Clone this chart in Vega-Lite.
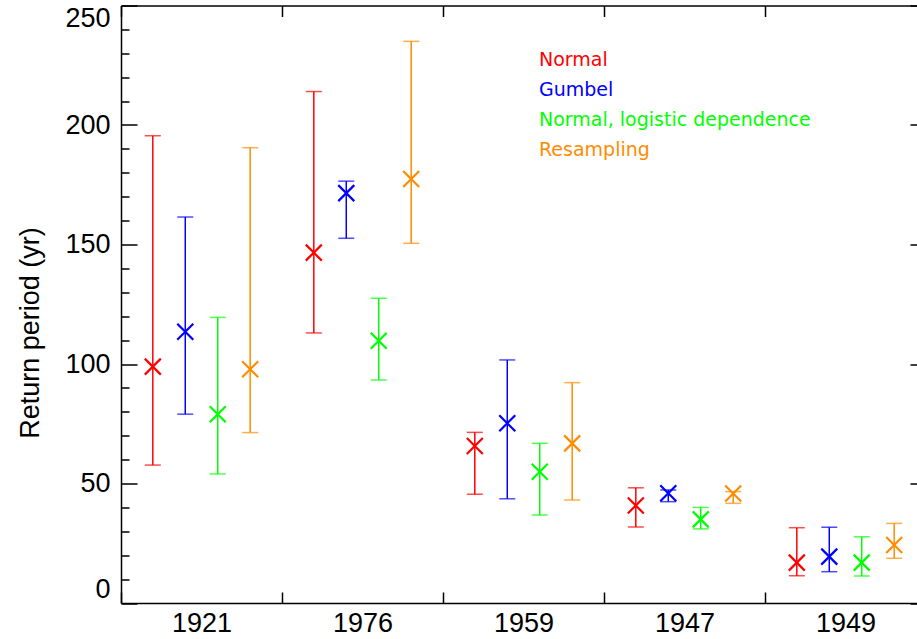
{
  "$schema": "https://vega.github.io/schema/vega-lite/v6.json",
  "autosize": "none",
  "padding": {"left": 121, "top": 5.5, "right": 0, "bottom": 36},
  "width": 805,
  "height": 597.5,
  "config": {"font": "Liberation Sans", "view": {"stroke": null}},
  "data": {"values": [
    {"year": "1921", "method": "Normal", "est": 98.9, "lo": 57.7, "hi": 195.5},
    {"year": "1921", "method": "Gumbel", "est": 113.5, "lo": 79, "hi": 161.5},
    {"year": "1921", "method": "Normal, logistic dependence", "est": 79, "lo": 54, "hi": 119.5},
    {"year": "1921", "method": "Resampling", "est": 97.8, "lo": 71.3, "hi": 190.5},
    {"year": "1976", "method": "Normal", "est": 146.6, "lo": 113, "hi": 214},
    {"year": "1976", "method": "Gumbel", "est": 171.5, "lo": 152.6, "hi": 176.5},
    {"year": "1976", "method": "Normal, logistic dependence", "est": 109.7, "lo": 93.3, "hi": 127.5},
    {"year": "1976", "method": "Resampling", "est": 177.4, "lo": 150.5, "hi": 235},
    {"year": "1959", "method": "Normal", "est": 65.7, "lo": 45.5, "hi": 71.4},
    {"year": "1959", "method": "Gumbel", "est": 75.2, "lo": 43.6, "hi": 101.7},
    {"year": "1959", "method": "Normal, logistic dependence", "est": 54.9, "lo": 36.8, "hi": 66.8},
    {"year": "1959", "method": "Resampling", "est": 66.8, "lo": 43.1, "hi": 92.2},
    {"year": "1947", "method": "Normal", "est": 40.8, "lo": 31.8, "hi": 48.2},
    {"year": "1947", "method": "Gumbel", "est": 45.9, "lo": 42.4, "hi": 47.3},
    {"year": "1947", "method": "Normal, logistic dependence", "est": 35, "lo": 31, "hi": 40},
    {"year": "1947", "method": "Resampling", "est": 45.8, "lo": 41.7, "hi": 46.6},
    {"year": "1949", "method": "Normal", "est": 16.9, "lo": 11.4, "hi": 31.5},
    {"year": "1949", "method": "Gumbel", "est": 19.4, "lo": 13.1, "hi": 31.7},
    {"year": "1949", "method": "Normal, logistic dependence", "est": 16.9, "lo": 11.3, "hi": 27.7},
    {"year": "1949", "method": "Resampling", "est": 24.3, "lo": 18.7, "hi": 33.3}
  ]},
  "resolve": {"axis": {"x": "independent", "y": "independent"}},
  "layer": [
    {
      "mark": {"type": "rule", "strokeWidth": 1.5},
      "encoding": {
        "x": {"field": "year", "type": "nominal",
          "scale": {"type": "band", "domain": ["1921", "1976", "1959", "1947", "1949"], "paddingInner": 0, "paddingOuter": 0},
          "axis": {"orient": "bottom", "title": null, "tickBand": "extent", "tickSize": -11, "tickColor": "black", "tickWidth": 1.5, "domainColor": "black", "domainWidth": 1.5, "labelAngle": 0, "labelFontSize": 27, "labelColor": "black", "labelPadding": 18}},
        "xOffset": {"field": "method", "type": "nominal",
          "scale": {"type": "band", "domain": ["Normal", "Gumbel", "Normal, logistic dependence", "Resampling"], "paddingInner": 0, "paddingOuter": 0.48}},
        "y": {"field": "lo", "type": "quantitative",
          "scale": {"domain": [0, 250], "nice": false, "zero": true},
          "axis": {"orient": "left", "values": [0,10,20,30,40,50,60,70,80,90,100,110,120,130,140,150,160,170,180,190,200,210,220,230,240,250],
            "tickSize": {"condition": {"test": "datum.value % 50 === 0", "value": -16}, "value": -8},
            "labelExpr": "datum.value % 50 === 0 ? datum.label : ''",
            "labelFlush": true, "labelFlushOffset": 0,
            "grid": false, "tickColor": "black", "tickWidth": 1.5, "domainColor": "black", "domainWidth": 1.5,
            "labelFontSize": 27, "labelColor": "black", "labelPadding": 27,
            "title": "Return period (yr)", "titleFontSize": 27, "titleFontWeight": "normal", "titleColor": "black",
            "titleX": -91, "titleY": 327, "titleAlign": "center", "titleBaseline": "middle"}},
        "y2": {"field": "hi"},
        "color": {"field": "method", "type": "nominal",
          "scale": {"domain": ["Normal", "Gumbel", "Normal, logistic dependence", "Resampling"], "range": ["#ff0000", "#0000ff", "#00ff00", "#ff8c00"]},
          "legend": {"orient": "none", "legendX": 399, "legendY": 45, "title": null,
            "symbolType": "circle", "symbolSize": 0, "symbolOpacity": 0, "symbolStrokeWidth": 0, "symbolStrokeColor": "transparent", "symbolFillColor": "transparent", "labelOffset": 0,
            "labelFont": "DejaVu Sans", "labelFontSize": 19, "rowPadding": 10, "labelLimit": 500,
            "labelColor": {"expr": "scale('color', datum.value)"}}}
      }
    },
    {
      "mark": {"type": "tick", "orient": "horizontal", "size": 16, "thickness": 1.5},
      "encoding": {
        "x": {"field": "year", "type": "nominal", "axis": null},
        "xOffset": {"field": "method", "type": "nominal"},
        "y": {"field": "lo", "type": "quantitative", "axis": null},
        "color": {"field": "method", "type": "nominal", "legend": null}
      }
    },
    {
      "mark": {"type": "tick", "orient": "horizontal", "size": 16, "thickness": 1.5},
      "encoding": {
        "x": {"field": "year", "type": "nominal", "axis": null},
        "xOffset": {"field": "method", "type": "nominal"},
        "y": {"field": "hi", "type": "quantitative", "axis": null},
        "color": {"field": "method", "type": "nominal", "legend": null}
      }
    },
    {
      "mark": {"type": "point", "shape": "M-1,-1L1,1M1,-1L-1,1", "filled": false, "size": 256, "strokeWidth": 2.2, "opacity": 1},
      "encoding": {
        "x": {"field": "year", "type": "nominal",
          "axis": {"orient": "top", "title": null, "labels": false, "tickBand": "extent", "tickSize": -11, "tickColor": "black", "tickWidth": 1.5, "domainColor": "black", "domainWidth": 1.5}},
        "xOffset": {"field": "method", "type": "nominal"},
        "y": {"field": "est", "type": "quantitative",
          "axis": {"orient": "right", "title": null, "labels": false, "grid": false,
            "values": [0,10,20,30,40,50,60,70,80,90,100,110,120,130,140,150,160,170,180,190,200,210,220,230,240,250],
            "tickSize": {"condition": {"test": "datum.value % 50 === 0", "value": -16}, "value": -8},
            "tickColor": "black", "tickWidth": 1.5, "domainColor": "black", "domainWidth": 1.5}},
        "color": {"field": "method", "type": "nominal", "legend": null}
      }
    }
  ]
}
